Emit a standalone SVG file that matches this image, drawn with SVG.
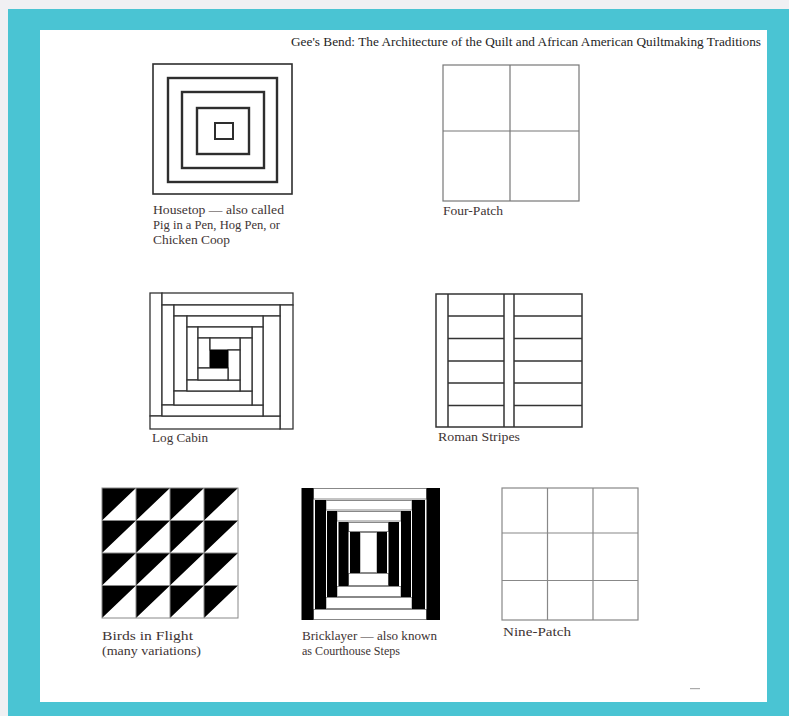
<svg xmlns="http://www.w3.org/2000/svg" width="789" height="716" viewBox="0 0 789 716">
<style>
.lbl{font-family:"Liberation Serif","DejaVu Serif",serif;font-size:12px;fill:#3e3434}
.ttl{font-family:"Liberation Serif","DejaVu Serif",serif;font-size:12.5px;fill:#1e1e1e}
.hs{fill:none;stroke:#2e2e2e}
.lc rect{fill:#fff;stroke:#333;stroke-width:1.3}
.grid{fill:none;stroke:#777;stroke-width:1.2}
.rs{fill:none;stroke:#333;stroke-width:1.5}
.bk{fill:#000}
.bw{fill:#fff;stroke:#888;stroke-width:1}
</style>
<rect x="0" y="0" width="789" height="716" fill="#f0f0f3"/>
<rect x="8" y="9" width="781" height="707" fill="#4ac4d3"/>
<rect x="40" y="30" width="727" height="672" fill="#fff"/>
<text class="ttl" x="291" y="46" textLength="470" lengthAdjust="spacingAndGlyphs">Gee's Bend: The Architecture of the Quilt and African American Quiltmaking Traditions</text>

<g id="housetop">
<rect class="hs" x="153" y="64" width="139" height="130" stroke-width="1.6"/>
<rect class="hs" x="168" y="78" width="109" height="104" stroke-width="2.4"/>
<rect class="hs" x="182" y="92" width="82" height="76" stroke-width="2.4"/>
<rect class="hs" x="197" y="108" width="52" height="46" stroke-width="2.4"/>
<rect class="hs" x="215" y="123" width="18" height="16" stroke-width="2"/>
<text class="lbl" x="153" y="214" textLength="131" lengthAdjust="spacingAndGlyphs">Housetop — also called</text>
<text class="lbl" x="153" y="229" textLength="127" lengthAdjust="spacingAndGlyphs">Pig in a Pen, Hog Pen, or</text>
<text class="lbl" x="153" y="244" textLength="77" lengthAdjust="spacingAndGlyphs">Chicken Coop</text>
</g>

<g id="four-patch">
<rect class="grid" x="443" y="65" width="136" height="136"/>
<path class="grid" d="M510 65V201M443 131H579"/>
<text class="lbl" x="443" y="215" textLength="60" lengthAdjust="spacingAndGlyphs">Four-Patch</text>
</g>

<g id="log-cabin">
<g class="lc">
<rect x="150" y="293" width="12" height="123"/>
<rect x="162" y="293" width="131" height="12"/>
<rect x="280" y="305" width="13" height="124"/>
<rect x="150" y="416" width="130" height="13"/>
<rect x="162" y="305" width="12" height="100"/>
<rect x="174" y="305" width="106" height="11"/>
<rect x="263" y="316" width="17" height="100"/>
<rect x="162" y="405" width="101" height="11"/>
<rect x="174" y="316" width="13" height="75"/>
<rect x="187" y="316" width="76" height="11"/>
<rect x="252" y="327" width="11" height="78"/>
<rect x="174" y="391" width="78" height="14"/>
<rect x="187" y="327" width="11" height="53"/>
<rect x="198" y="327" width="54" height="11"/>
<rect x="240" y="338" width="12" height="53"/>
<rect x="187" y="380" width="53" height="11"/>
<rect x="198" y="338" width="12" height="30"/>
<rect x="210" y="338" width="30" height="12"/>
<rect x="228" y="350" width="12" height="30"/>
<rect x="198" y="368" width="30" height="12"/>
</g>
<rect x="210" y="350" width="18" height="18" fill="#000"/>
<text class="lbl" x="152" y="442" textLength="56" lengthAdjust="spacingAndGlyphs">Log Cabin</text>
</g>

<g id="roman-stripes">
<rect class="rs" x="436" y="294" width="146" height="133"/>
<path class="rs" d="M448 294V427M504 294V427M514 294V427M448 316H504M448 338.5H504M448 361H504M448 383H504M448 405.5H504M514 316H582M514 338.5H582M514 361H582M514 383H582M514 405.5H582"/>
<text class="lbl" x="438" y="441" textLength="82" lengthAdjust="spacingAndGlyphs">Roman Stripes</text>
</g>

<g id="birds-in-flight">
<path fill="#000" d="M102 488h34l-34 32.5zM136 488h34l-34 32.5zM170 488h34l-34 32.5zM204 488h34l-34 32.5zM102 520.5h34l-34 32.5zM136 520.5h34l-34 32.5zM170 520.5h34l-34 32.5zM204 520.5h34l-34 32.5zM102 553h34l-34 32.5zM136 553h34l-34 32.5zM170 553h34l-34 32.5zM204 553h34l-34 32.5zM102 585.5h34l-34 32.5zM136 585.5h34l-34 32.5zM170 585.5h34l-34 32.5zM204 585.5h34l-34 32.5z"/>
<rect x="102" y="488" width="136" height="130" fill="none" stroke="#888" stroke-width="1"/>
<path d="M136 488V618M170 488V618M204 488V618M102 520.5H238M102 553H238M102 585.5H238" fill="none" stroke="#888" stroke-width="1"/>
<text class="lbl" x="102" y="640" textLength="91" lengthAdjust="spacingAndGlyphs">Birds in Flight</text>
<text class="lbl" x="102" y="655" textLength="99" lengthAdjust="spacingAndGlyphs">(many variations)</text>
</g>

<g id="bricklayer">
<rect class="bw" x="313.5" y="488.5" width="113" height="10.5"/>
<rect class="bw" x="326" y="500.5" width="86" height="9.5"/>
<rect class="bw" x="337" y="511.5" width="64" height="9.5"/>
<rect class="bw" x="348.5" y="522.5" width="40" height="9"/>
<rect class="bw" x="360" y="532.5" width="17" height="40"/>
<rect class="bw" x="348.5" y="573.5" width="40" height="12"/>
<rect class="bw" x="337" y="586.5" width="64" height="10"/>
<rect class="bw" x="326" y="597.5" width="86" height="11"/>
<rect class="bw" x="313.5" y="609.5" width="113" height="10"/>
<rect class="bk" x="301.5" y="488" width="12" height="132"/>
<rect class="bk" x="426.5" y="488" width="13.5" height="132"/>
<rect class="bk" x="315" y="500" width="11" height="109"/>
<rect class="bk" x="412" y="500" width="13" height="109"/>
<rect class="bk" x="327" y="511" width="10" height="86"/>
<rect class="bk" x="401" y="511" width="10" height="86"/>
<rect class="bk" x="338.5" y="522" width="10" height="64"/>
<rect class="bk" x="388.5" y="522" width="10.5" height="64"/>
<rect class="bk" x="350" y="532" width="10" height="41"/>
<rect class="bk" x="377" y="532" width="10" height="41"/>
<text class="lbl" x="302" y="640" textLength="135" lengthAdjust="spacingAndGlyphs">Bricklayer — also known</text>
<text class="lbl" x="302" y="655" textLength="98" lengthAdjust="spacingAndGlyphs">as Courthouse Steps</text>
</g>

<g id="nine-patch">
<rect x="502" y="488" width="136" height="132" fill="none" stroke="#888" stroke-width="1.2"/>
<path d="M547.5 488V620M593 488V620M502 533H638M502 580.5H638" fill="none" stroke="#888" stroke-width="1.2"/>
<text class="lbl" x="503" y="636" textLength="68" lengthAdjust="spacingAndGlyphs">Nine-Patch</text>
</g>

<rect x="690" y="688" width="10" height="1.2" fill="#aaa"/>
</svg>
